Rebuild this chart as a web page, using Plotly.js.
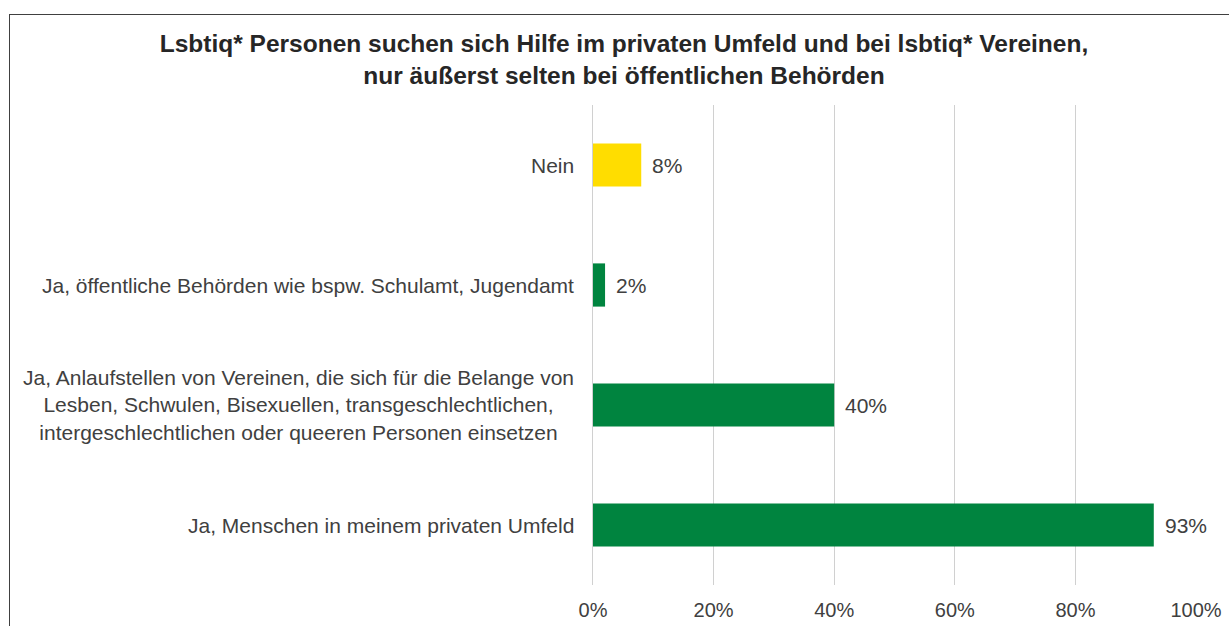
<!DOCTYPE html>
<html>
<head>
<meta charset="utf-8">
<script src="https://cdn.plot.ly/plotly-3.0.1.min.js"></script>
<style>
  html, body { margin: 0; padding: 0; background: #fff; overflow: hidden; }
  #chart { width: 1229px; height: 626px; }
  #frame { position: absolute; left: 9px; top: 14px; width: 1400px; height: 800px;
           border-left: 1px solid #404040; border-top: 1px solid #404040; pointer-events: none; }
</style>
</head>
<body>
<div id="chart"></div>
<div id="frame"></div>
<script>
const chartTitle = "Lsbtiq* Personen suchen sich Hilfe im privaten Umfeld und bei lsbtiq* Vereinen,<br>nur äußerst selten bei öffentlichen Behörden";
const categories = [
  "Nein",
  "Ja, öffentliche Behörden wie bspw. Schulamt, Jugendamt",
  "Ja, Anlaufstellen von Vereinen, die sich für die Belange von<br>Lesben, Schwulen, Bisexuellen, transgeschlechtlichen,<br>intergeschlechtlichen oder queeren Personen einsetzen",
  "Ja, Menschen in meinem privaten Umfeld"
];
const values = [8, 2, 40, 93];
const barColors = ["#FFDD00", "#00843F", "#00843F", "#00843F"];
const tickVals = [0, 20, 40, 60, 80, 100];
const tickText = ["0%", "20%", "40%", "60%", "80%", "100%"];

const fontFam = "Liberation Sans, Arial, sans-serif";

const trace = {
  type: "bar",
  orientation: "h",
  y: categories,
  x: values,
  width: 0.36,
  marker: { color: barColors, line: { width: 0 } },
  hoverinfo: "skip"
};

const annotations = [];
categories.forEach((c, i) => {
  annotations.push({
    xref: "paper", yref: "y", x: 0, y: c,
    xanchor: "right", yanchor: "middle", xshift: -17,
    align: "center", showarrow: false,
    text: c,
    font: { family: fontFam, size: 21, color: "#404040" }
  });
  annotations.push({
    xref: "x", yref: "y", x: values[i], y: c,
    xanchor: "left", yanchor: "middle", xshift: 9,
    showarrow: false,
    text: values[i] + "%",
    font: { family: fontFam, size: 21, color: "#404040" }
  });
});

const layout = {
  width: 1229, height: 626,
  margin: { l: 593, r: 33, t: 105, b: 41, pad: 0 },
  paper_bgcolor: "#ffffff",
  plot_bgcolor: "#ffffff",
  showlegend: false,
  title: {
    text: chartTitle,
    x: 624 / 1229, xref: "container", xanchor: "center",
    y: 1 - 52 / 626, yref: "container", yanchor: "middle",
    font: { family: fontFam, size: 24.5, color: "#262626", weight: "bold" }
  },
  xaxis: {
    range: [0, 100],
    tickvals: tickVals, ticktext: tickText,
    showgrid: true, gridcolor: "#d0d0d0", gridwidth: 1,
    zeroline: false, showline: false, ticks: "",
    ticklabelstandoff: 11,
    tickfont: { family: fontFam, size: 20, color: "#404040" },
    fixedrange: true
  },
  yaxis: {
    type: "category",
    autorange: "reversed",
    showticklabels: false,
    showgrid: false, zeroline: false,
    showline: true, linecolor: "#d0d0d0", linewidth: 1,
    ticks: "",
    fixedrange: true
  },
  annotations: annotations
};

Plotly.newPlot("chart", [trace], layout, { displayModeBar: false, staticPlot: true });
</script>
</body>
</html>
